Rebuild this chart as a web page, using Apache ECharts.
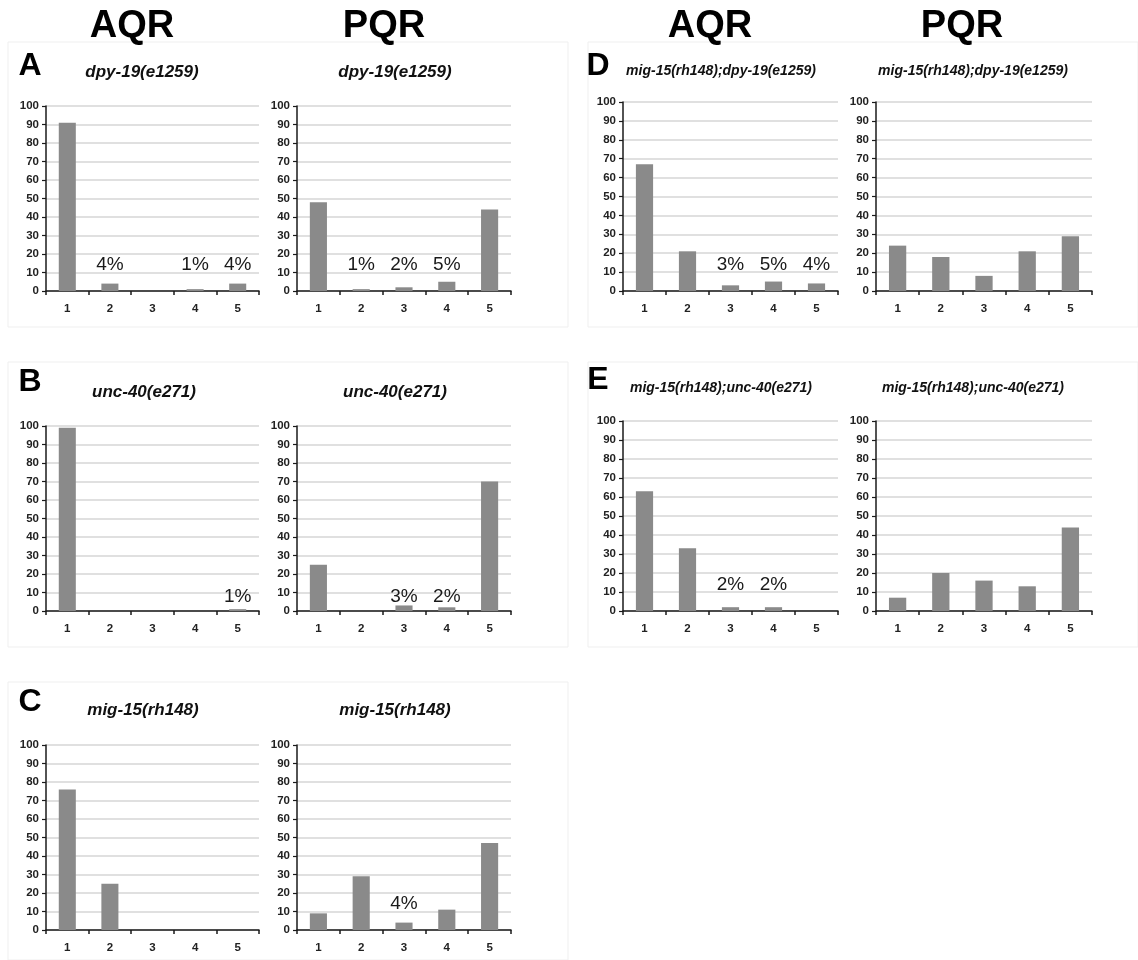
<!DOCTYPE html>
<html>
<head>
<meta charset="utf-8">
<script src="https://cdn.jsdelivr.net/npm/echarts@6/dist/echarts.min.js"></script>
<style>
html,body{margin:0;padding:0;background:#fff;}
#c{width:1138px;height:960px;}
</style>
</head>
<body>
<div id="c"></div>
<script>
// ---- data ----
const categories = ['1', '2', '3', '4', '5'];
const yMin = 0, yMax = 100, yStep = 10;

const aAQR = [91, 4, 0, 1, 4];
const aPQR = [48, 1, 2, 5, 44];
const bAQR = [99, 0, 0, 0, 1];
const bPQR = [25, 0, 3, 2, 70];
const cAQR = [76, 25, 0, 0, 0];
const cPQR = [9, 29, 4, 11, 47];
const dAQR = [67, 21, 3, 5, 4];
const dPQR = [24, 18, 8, 21, 29];
const eAQR = [63, 33, 2, 2, 0];
const ePQR = [7, 20, 16, 13, 44];

// which bars carry a percentage annotation (1 = yes)
const aAQRnote = [0, 1, 0, 1, 1];
const aPQRnote = [0, 1, 1, 1, 0];
const bAQRnote = [0, 0, 0, 0, 1];
const bPQRnote = [0, 0, 1, 1, 0];
const cAQRnote = [0, 0, 0, 0, 0];
const cPQRnote = [0, 0, 1, 0, 0];
const dAQRnote = [0, 0, 1, 1, 1];
const dPQRnote = [0, 0, 0, 0, 0];
const eAQRnote = [0, 0, 1, 1, 0];
const ePQRnote = [0, 0, 0, 0, 0];

const columnHeads = ['AQR', 'PQR', 'AQR', 'PQR'];
const panelLetters = ['A', 'B', 'C', 'D', 'E'];
const strainA = 'dpy-19(e1259)';
const strainB = 'unc-40(e271)';
const strainC = 'mig-15(rh148)';
const strainD = 'mig-15(rh148);dpy-19(e1259)';
const strainE = 'mig-15(rh148);unc-40(e271)';

// ---- layout ----
const panels = [
  {vals: aAQR, note: aAQRnote, title: strainA, left: 46, top: 106, w: 213, h: 185, tx: 137, ty: 67, fs: 17, lo: -12},
  {vals: aPQR, note: aPQRnote, title: strainA, left: 297, top: 106, w: 214, h: 185, tx: 390, ty: 67, fs: 17, lo: -12},
  {vals: bAQR, note: bAQRnote, title: strainB, left: 46, top: 426, w: 213, h: 185, tx: 139, ty: 387, fs: 17, lo: 0},
  {vals: bPQR, note: bPQRnote, title: strainB, left: 297, top: 426, w: 214, h: 185, tx: 390, ty: 387, fs: 17, lo: 0},
  {vals: cAQR, note: cAQRnote, title: strainC, left: 46, top: 745, w: 213, h: 185, tx: 138, ty: 705, fs: 17, lo: -12},
  {vals: cPQR, note: cPQRnote, title: strainC, left: 297, top: 745, w: 214, h: 185, tx: 390, ty: 705, fs: 17, lo: -12},
  {vals: dAQR, note: dAQRnote, title: strainD, left: 623, top: 102, w: 215, h: 189, tx: 716, ty: 66, fs: 14, lo: -12},
  {vals: dPQR, note: dPQRnote, title: strainD, left: 876, top: 102, w: 216, h: 189, tx: 968, ty: 66, fs: 14, lo: -12},
  {vals: eAQR, note: eAQRnote, title: strainE, left: 623, top: 421, w: 215, h: 190, tx: 716, ty: 383, fs: 14, lo: -12},
  {vals: ePQR, note: ePQRnote, title: strainE, left: 876, top: 421, w: 216, h: 190, tx: 968, ty: 383, fs: 14, lo: -12}
];

const grid = [], xAxis = [], yAxis = [], series = [], title = [];
panels.forEach((p, i) => {
  grid.push({left: p.left, top: p.top, width: p.w, height: p.h, containLabel: false});
  xAxis.push({
    type: 'category', gridIndex: i, data: categories, boundaryGap: true,
    axisLine: {lineStyle: {color: '#1a1a1a', width: 1.5}},
    axisTick: {show: true, length: 4, lineStyle: {color: '#1a1a1a', width: 1.5}},
    axisLabel: {color: '#222', fontSize: 11.5, fontWeight: 'bold', fontFamily: 'Arial, Liberation Sans', margin: 12}
  });
  yAxis.push({
    type: 'value', gridIndex: i, min: yMin, max: yMax, interval: yStep,
    axisLine: {show: true, lineStyle: {color: '#1a1a1a', width: 1.5}},
    axisTick: {show: true, length: 4, lineStyle: {color: '#1a1a1a', width: 1.2}},
    axisLabel: {color: '#222', fontSize: 11.5, fontWeight: 'bold', fontFamily: 'Arial, Liberation Sans', margin: 7},
    splitLine: {show: true, lineStyle: {color: '#d6d6d6', width: 1.5}}
  });
  series.push({
    type: 'bar', xAxisIndex: i, yAxisIndex: i, barWidth: '40%',
    itemStyle: {color: '#8a8a8a'},
    data: p.vals.map((v, k) => ({
      value: v,
      label: p.note[k] ? {
        show: true, position: 'insideBottom', offset: [0, p.lo],
        formatter: '{c}%', color: '#1a1a1a', fontSize: 19,
        fontFamily: 'Arial, Liberation Sans'
      } : {show: false}
    })),
    silent: true, animation: false
  });
  title.push({
    text: p.title, left: p.tx, top: p.ty, textAlign: 'center', textVerticalAlign: 'middle',
    textStyle: {fontSize: p.fs, fontWeight: 'bold', fontStyle: 'italic', color: '#111', fontFamily: 'Arial, Liberation Sans'}
  });
});

const graphic = [];
// faint panel boxes
const boxes = [
  [8, 42, 560, 285], [8, 362, 560, 285], [8, 682, 560, 278],
  [588, 42, 550, 285], [588, 362, 550, 285]
];
boxes.forEach(b => graphic.push({
  type: 'rect', shape: {x: b[0], y: b[1], width: b[2], height: b[3]},
  style: {fill: 'none', stroke: '#efefef', lineWidth: 1}, silent: true, z: -1
}));
// column headers
const headX = [132, 384, 710, 962];
columnHeads.forEach((t, i) => graphic.push({
  type: 'text', x: headX[i], y: 27,
  style: {text: t, font: 'bold 38px Arial, "Liberation Sans"', fill: '#000', textAlign: 'center', textVerticalAlign: 'middle'}
}));
// panel letters
const letterPos = [[30, 66], [30, 382], [30, 702], [598, 66], [598, 380]];
panelLetters.forEach((t, i) => graphic.push({
  type: 'text', x: letterPos[i][0], y: letterPos[i][1],
  style: {text: t, font: 'bold 32px Arial, "Liberation Sans"', fill: '#000', textAlign: 'center', textVerticalAlign: 'middle'}
}));

const chart = echarts.init(document.getElementById('c'), null, {renderer: 'canvas'});
chart.setOption({animation: false, backgroundColor: '#fff', grid, xAxis, yAxis, series, title, graphic});
</script>
</body>
</html>
